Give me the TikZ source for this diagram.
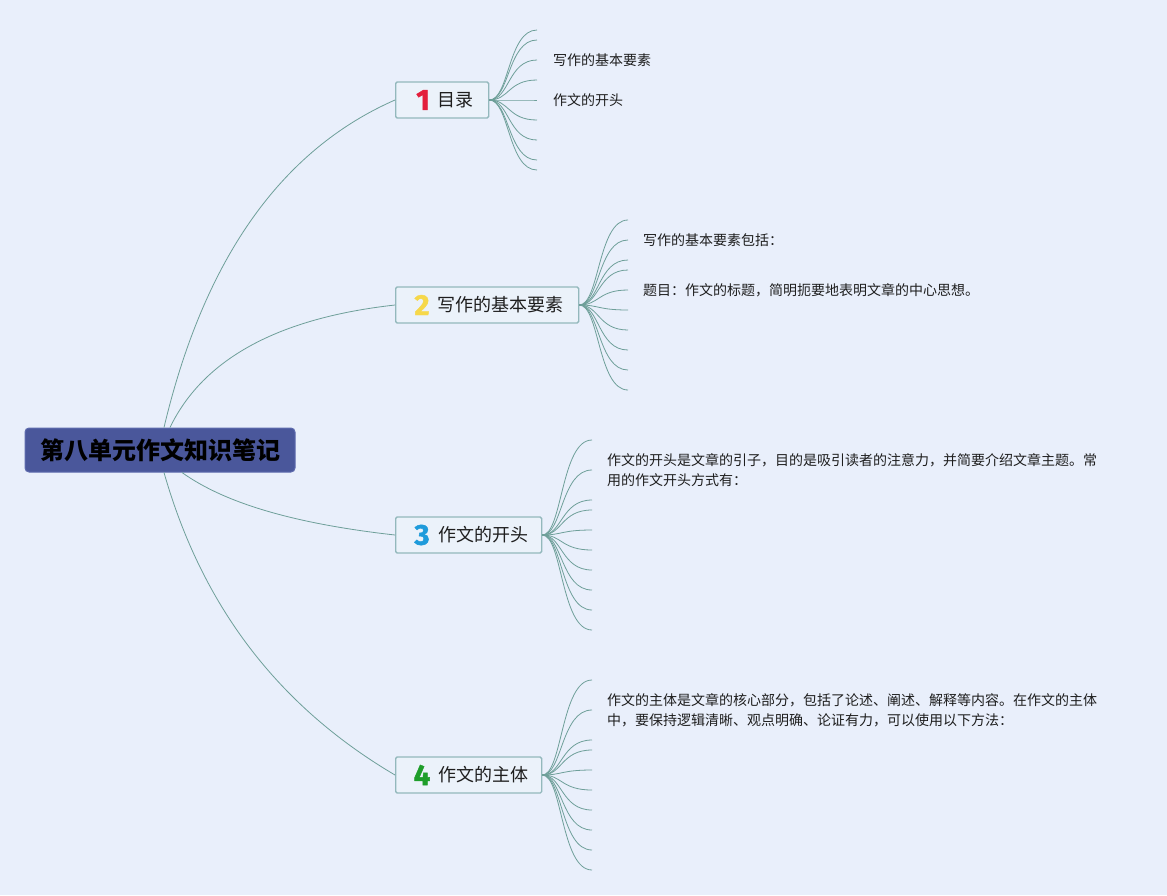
\documentclass[tikz,border=0pt]{standalone}
\usepackage{fontspec}
\setmainfont{Noto Sans CJK SC}
\newfontfamily\numfont{Fira Sans}[FakeBold=1.6]
\definecolor{bg}{HTML}{E9EFFB}
\definecolor{rootfill}{HTML}{4A579B}
\definecolor{rootborder}{HTML}{5E6BAE}
\definecolor{brfill}{HTML}{EBF2FA}
\definecolor{brborder}{HTML}{93B8BC}
\definecolor{linec}{HTML}{6E9F99}
\definecolor{txt}{HTML}{1E1E1E}
\definecolor{nred}{HTML}{E31E3C}
\definecolor{nyellow}{HTML}{F6D84A}
\definecolor{nblue}{HTML}{1E9BDB}
\definecolor{ngreen}{HTML}{1E9E2A}
\begin{document}
\begin{tikzpicture}[x=1pt,y=-1pt,
  rootbox/.style={draw=rootborder, fill=rootfill, line width=1pt, rounded corners=4pt,
    minimum width=270pt, minimum height=44pt, inner sep=0pt, text=black,
    font=\fontsize{24}{28}\selectfont\bfseries},
  brbox/.style={draw=brborder, fill=brfill, line width=1.3pt, rounded corners=1.5pt,
    minimum height=36pt, inner sep=0pt, anchor=west},
  num/.style={inner sep=0pt, font=\numfont\fontsize{29}{32}\selectfont\bfseries},
  brlabel/.style={inner sep=0pt, anchor=west, text=txt, font=\fontsize{18}{22}\selectfont},
  leaf/.style={inner sep=0pt, anchor=west, text=txt, align=left, font=\fontsize{14}{20}\selectfont},
  conn/.style={draw=linec, line width=0.8pt},
  fan/.style={draw=linec, line width=0.8pt}
]
\fill[bg] (0,0) rectangle (1167,895);
\useasboundingbox (0,0) rectangle (1167,895);

% root
\node[rootbox] (root) at (160,450) {第八单元作文知识笔记};

% branch boxes
\node[brbox, minimum width=93pt] (b1) at (395,100) {};
\node[brbox, minimum width=183pt] (b2) at (395,305) {};
\node[brbox, minimum width=146pt] (b3) at (395,535) {};
\node[brbox, minimum width=146pt] (b4) at (395,775) {};

\node[num, text=nred] (n1) at (423,100) {1};
\node[brlabel] (t1) at (437,100) {目录};
\node[num, text=nyellow] (n2) at (422,305) {2};
\node[brlabel] (t2) at (437,305) {写作的基本要素};
\node[num, text=nblue] (n3) at (422,535) {3};
\node[brlabel] (t3) at (438,535) {作文的开头};
\node[num, text=ngreen] (n4) at (422,775) {4};
\node[brlabel] (t4) at (438,775) {作文的主体};

% main connectors
\draw[conn] ([xshift=4pt]root.north) .. controls (204,259) and (281,150) .. (b1.west);
\draw[conn] ([xshift=10pt]root.north) .. controls (203,359) and (278,318) .. (b2.west);
\draw[conn] ([xshift=22pt]root.south) .. controls (226,504) and (297,524) .. (b3.west);
\draw[conn] ([xshift=4pt]root.south) .. controls (202,606) and (278,706) .. (b4.west);

% fans
\foreach \y [count=\i] in {30,40,60,80,100,120,140,160,170} {
  \coordinate (e1-\i) at (537,\y);
  \draw[fan] (b1.east) .. controls ([xshift=20pt]b1.east) and ([xshift=-29pt]e1-\i) .. (e1-\i);
}
\foreach \y [count=\i] in {220,240,260,270,290,310,330,350,370,390} {
  \coordinate (e2-\i) at (628,\y);
  \draw[fan] (b2.east) .. controls ([xshift=20pt]b2.east) and ([xshift=-30pt]e2-\i) .. (e2-\i);
}
\foreach \y [count=\i] in {440,470,500,510,530,550,570,590,610,630} {
  \coordinate (e3-\i) at (592,\y);
  \draw[fan] (b3.east) .. controls ([xshift=20pt]b3.east) and ([xshift=-31pt]e3-\i) .. (e3-\i);
}
\foreach \y [count=\i] in {680,710,740,750,770,790,810,830,850,870} {
  \coordinate (e4-\i) at (592,\y);
  \draw[fan] (b4.east) .. controls ([xshift=20pt]b4.east) and ([xshift=-31pt]e4-\i) .. (e4-\i);
}

% leaf texts
\node[leaf] (a1) at ([xshift=16pt]e1-3) {写作的基本要素};
\node[leaf] (a2) at ([xshift=16pt]e1-5) {作文的开头};
\node[leaf] (c1) at ([xshift=15pt]e2-2) {写作的基本要素包括：};
\node[leaf] (c2) at ([xshift=15pt]e2-5) {题目：作文的标题，简明扼要地表明文章的中心思想。};
\node[leaf] (d1) at ([xshift=15pt]e3-2) {作文的开头是文章的引子，目的是吸引读者的注意力，并简要介绍文章主题。常\\用的作文开头方式有：};
\node[leaf] (f1) at ([xshift=15pt]e4-2) {作文的主体是文章的核心部分，包括了论述、阐述、解释等内容。在作文的主体\\中，要保持逻辑清晰、观点明确、论证有力，可以使用以下方法：};
\end{tikzpicture}
\end{document}
